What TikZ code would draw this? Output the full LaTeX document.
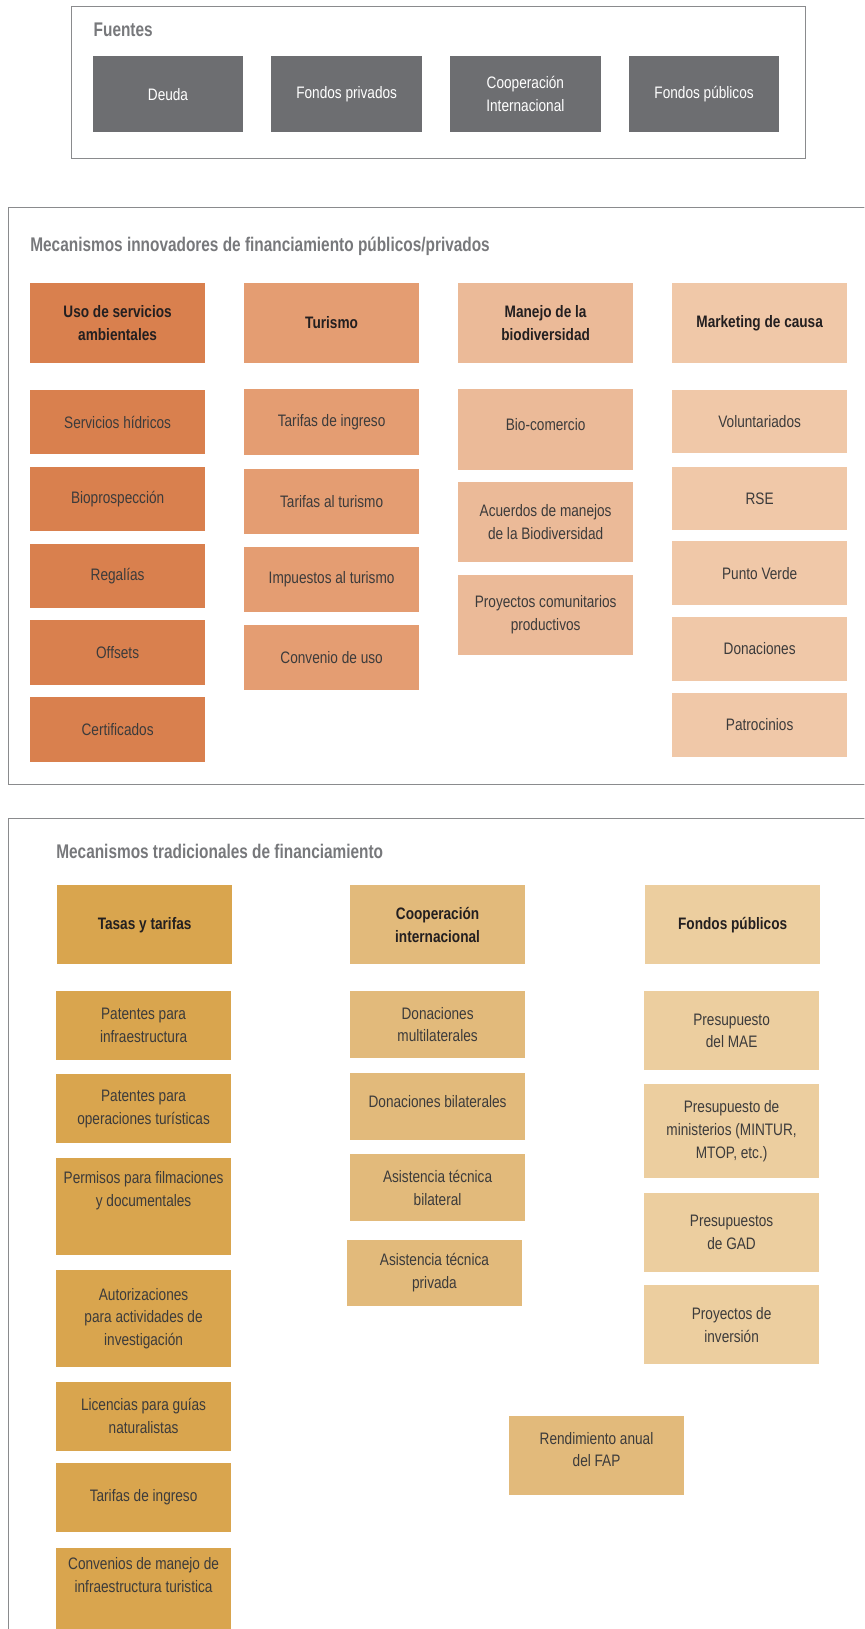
\documentclass[tikz,border=0pt]{standalone}
\usepackage{fontspec}
\setmainfont{Liberation Sans}[FakeStretch=0.82]
\newfontfamily\ttlfont{Liberation Sans}[FakeStretch=0.78]
\definecolor{fuente}{HTML}{6D6E71}
\definecolor{ttlgray}{HTML}{77787B}
\definecolor{framegray}{HTML}{8A8B8D}
\definecolor{txt}{HTML}{3C3B3B}
\definecolor{hd}{HTML}{231F20}
\definecolor{inA}{HTML}{D9804E}
\definecolor{inB}{HTML}{E49D72}
\definecolor{inC}{HTML}{EBBA98}
\definecolor{inD}{HTML}{F0C8A8}
\definecolor{trA}{HTML}{D9A54E}
\definecolor{trB}{HTML}{E2BA7B}
\definecolor{trC}{HTML}{ECCE9F}
\tikzset{
  cell/.style={anchor=north west, minimum width=168pt, inner sep=2pt, align=center,
    text=txt, font=\fontsize{16}{22}\selectfont},
  head/.style={cell, text=hd, font=\bfseries\fontsize{16}{22}\selectfont},
  src/.style={cell, minimum width=145pt, minimum height=73pt, fill=fuente, text=white},
  ttl/.style={anchor=west, inner sep=0pt, text=ttlgray, font=\ttlfont\bfseries\fontsize{19}{22}\selectfont},
  frame/.style={draw=framegray, line width=1pt}
}
\begin{document}
\begin{tikzpicture}[x=1pt,y=-1pt]
  \useasboundingbox (0,0) rectangle (832,1568);
  \clip (0,0) rectangle (832,1568);

  % Fuentes
  \draw[frame] (69,6) rectangle (775,153);
  \node[ttl] (fuentes) at (90,29) {Fuentes};
  \node[src] (fu1) at (89,54) {Deuda}; \node[src] (fu2) at (261,54) {Fondos privados};
  \node[src] (fu3) at (433,54) {Cooperación\\Internacional}; \node[src] (fu4) at (605,54) {Fondos públicos};

  % Mecanismos innovadores
  \draw[frame] (8,200) rectangle (845,755);
  \node[ttl] (innov) at (29,237) {Mecanismos innovadores de financiamiento públicos/privados};
  \node[head, fill=inA, minimum height=77pt] (inA0) at (29,272) {Uso de servicios\\ambientales};
  \node[head, fill=inB, minimum height=77pt] (inB0) at (235,272) {Turismo};
  \node[head, fill=inC, minimum height=77pt] (inC0) at (441,272) {Manejo de la\\biodiversidad};
  \node[head, fill=inD, minimum height=77pt] (inD0) at (647,272) {Marketing de causa};

  \node[cell, fill=inA, minimum height=62pt] (inA1) at (29,375) {Servicios hídricos};
  \node[cell, fill=inA, minimum height=62pt] (inA2) at (29,449) {Bioprospección};
  \node[cell, fill=inA, minimum height=62pt] (inA3) at (29,523) {Regalías};
  \node[cell, fill=inA, minimum height=62pt] (inA4) at (29,597) {Offsets};
  \node[cell, fill=inA, minimum height=62pt] (inA5) at (29,671) {Certificados};

  \node[cell, fill=inB, minimum height=64pt] (inB1) at (235,374) {Tarifas de ingreso};
  \node[cell, fill=inB, minimum height=63pt] (inB2) at (235,451) {Tarifas al turismo};
  \node[cell, fill=inB, minimum height=63pt] (inB3) at (235,526) {Impuestos al turismo};
  \node[cell, fill=inB, minimum height=63pt] (inB4) at (235,601) {Convenio de uso};

  \node[cell, fill=inC, minimum height=78pt, text depth=10pt] (inC1) at (441,374) {Bio-comercio};
  \node[cell, fill=inC, minimum height=77pt] (inC2) at (441,464) {Acuerdos de manejos\\de la Biodiversidad};
  \node[cell, fill=inC, minimum height=77pt] (inC3) at (441,553) {Proyectos comunitarios\\productivos};

  \node[cell, fill=inD, minimum height=61pt] (inD1) at (647,375) {Voluntariados};
  \node[cell, fill=inD, minimum height=61pt] (inD2) at (647,449) {RSE};
  \node[cell, fill=inD, minimum height=61pt] (inD3) at (647,521) {Punto Verde};
  \node[cell, fill=inD, minimum height=61pt] (inD4) at (647,594) {Donaciones};
  \node[cell, fill=inD, minimum height=61pt] (inD5) at (647,667) {Patrocinios};

  % Mecanismos tradicionales
  \draw[frame] (8,788) rectangle (845,1600);
  \node[ttl] (trad) at (54,820) {Mecanismos tradicionales de financiamiento};
  \node[head, fill=trA, minimum height=76pt] (trA0) at (55,852) {Tasas y tarifas};
  \node[head, fill=trB, minimum height=76pt] (trB0) at (337,852) {Cooperación\\internacional};
  \node[head, fill=trC, minimum height=76pt] (trC0) at (621,852) {Fondos públicos};

  \node[cell, fill=trA, minimum height=66pt] (trA1) at (54,954) {Patentes para\\infraestructura};
  \node[cell, fill=trA, minimum height=66pt] (trA2) at (54,1034) {Patentes para\\operaciones turísticas};
  \node[cell, fill=trA, minimum height=94pt, text depth=34pt] (trA3) at (54,1114) {Permisos para filmaciones\\y documentales};
  \node[cell, fill=trA, minimum height=94pt] (trA4) at (54,1222) {Autorizaciones\\para actividades de\\investigación};
  \node[cell, fill=trA, minimum height=66pt] (trA5) at (54,1330) {Licencias para guías\\naturalistas};
  \node[cell, fill=trA, minimum height=66pt] (trA6) at (54,1408) {Tarifas de ingreso};
  \node[cell, fill=trA, minimum height=100pt, text depth=48pt] (trA7) at (54,1490) {Convenios de manejo de\\infraestructura turistica};

  \node[cell, fill=trB, minimum height=64pt] (trB1) at (337,954) {Donaciones\\multilaterales};
  \node[cell, fill=trB, minimum height=64pt, text depth=10pt] (trB2) at (337,1033) {Donaciones bilaterales};
  \node[cell, fill=trB, minimum height=64pt] (trB3) at (337,1111) {Asistencia técnica\\bilateral};
  \node[cell, fill=trB, minimum height=64pt] (trB4) at (334,1193) {Asistencia técnica\\privada};

  \node[cell, fill=trC, minimum height=76pt] (trC1) at (620,954) {Presupuesto\\del MAE};
  \node[cell, fill=trC, minimum height=91pt] (trC2) at (620,1043) {Presupuesto de\\ministerios (MINTUR,\\MTOP, etc.)};
  \node[cell, fill=trC, minimum height=76pt] (trC3) at (620,1148) {Presupuestos\\de GAD};
  \node[cell, fill=trC, minimum height=76pt] (trC4) at (620,1237) {Proyectos de\\inversión};

  \node[cell, fill=trB, minimum height=76pt, text depth=12pt] (fap) at (490,1363) {Rendimiento anual\\del FAP};
\end{tikzpicture}
\end{document}
